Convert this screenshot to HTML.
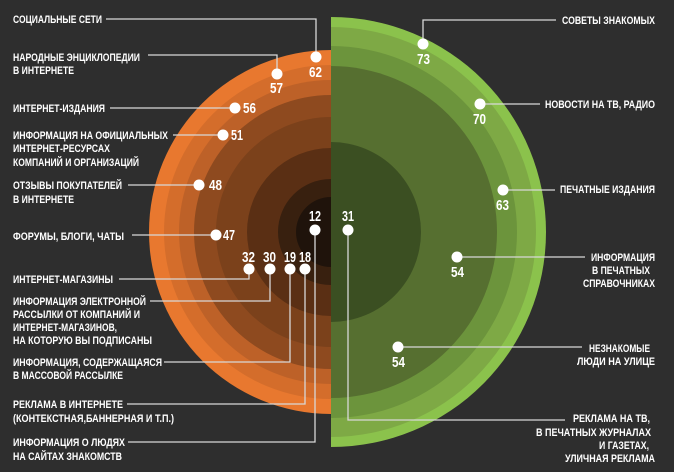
<!DOCTYPE html>
<html><head><meta charset="utf-8"><style>
html,body{margin:0;padding:0;background:#2e2e2e;}
svg{display:block;}
text{font-family:"Liberation Sans",sans-serif;font-weight:bold;fill:#fff;}
.l{font-size:11px;}
.n{font-size:14.5px;}
</style></head><body>
<svg width="674" height="472" viewBox="0 0 674 472" xmlns="http://www.w3.org/2000/svg">
<rect width="674" height="472" fill="#2e2e2e"/>
<defs>
<clipPath id="L"><rect x="0" y="0" width="331" height="472"/></clipPath>
<clipPath id="R"><rect x="331" y="0" width="343" height="472"/></clipPath>
</defs>
<g clip-path="url(#L)">
<circle cx="331" cy="232" r="182" fill="#e8782f"/>
<circle cx="331" cy="232" r="167" fill="#d46d2b"/>
<circle cx="331" cy="232" r="152" fill="#bd6128"/>
<circle cx="331" cy="232" r="137" fill="#8e4a1f"/>
<circle cx="331" cy="232" r="115" fill="#7b411b"/>
<circle cx="331" cy="232" r="84" fill="#5a2f14"/>
<circle cx="331" cy="232" r="53" fill="#38200f"/>
<circle cx="331" cy="232" r="35" fill="#1f130b"/>
</g>
<g clip-path="url(#R)">
<circle cx="331" cy="232" r="215" fill="#8bc24c"/>
<circle cx="331" cy="232" r="205" fill="#7ea945"/>
<circle cx="331" cy="232" r="186" fill="#6c943c"/>
<circle cx="331" cy="232" r="166" fill="#566f30"/>
<circle cx="331" cy="232" r="90" fill="#3b4f22"/>
</g>
<g fill="none" stroke="#d8d8d8" stroke-width="1.3">
<polyline points="106,19 316,19 316,57"/>
<polyline points="148,55 277,55 277,74"/>
<polyline points="110,108 235,108"/>
<polyline points="173,135 223,135"/>
<polyline points="128,185 199,185"/>
<polyline points="132,235 216,235"/>
<polyline points="119,279 249,279 249,269"/>
<polyline points="150,301 270,301 270,269"/>
<polyline points="164,362 290,362 290,269"/>
<polyline points="127,404 305,404 305,269"/>
<polyline points="128,442 315,442 315,230"/>
<polyline points="348,230 348,420 565,420"/>
<polyline points="423,44 423,20 556,20"/>
<polyline points="480,104 540,104"/>
<polyline points="503,190 555,190"/>
<polyline points="457,257 585,257"/>
<polyline points="398,347 582,347"/>
</g>
<g fill="#fff">
<circle cx="316" cy="57" r="5.5"/><circle cx="277" cy="74" r="5.5"/><circle cx="235" cy="108" r="5.5"/>
<circle cx="223" cy="135" r="5.5"/><circle cx="199" cy="185" r="5.5"/><circle cx="216" cy="235" r="5.5"/>
<circle cx="249" cy="269" r="5.5"/><circle cx="270" cy="269" r="5.5"/><circle cx="290" cy="269" r="5.5"/>
<circle cx="305" cy="269" r="5.5"/><circle cx="315" cy="230" r="5.5"/><circle cx="348" cy="230" r="5.5"/>
<circle cx="423" cy="44" r="5.5"/><circle cx="480" cy="104" r="5.5"/><circle cx="503" cy="190" r="5.5"/>
<circle cx="457" cy="257" r="5.5"/><circle cx="398" cy="347" r="5.5"/>
</g>
<g class="n">
<text x="309" y="77" textLength="13" lengthAdjust="spacingAndGlyphs">62</text>
<text x="270" y="93" textLength="13" lengthAdjust="spacingAndGlyphs">57</text>
<text x="243" y="113" textLength="13" lengthAdjust="spacingAndGlyphs">56</text>
<text x="231" y="140" textLength="12" lengthAdjust="spacingAndGlyphs">51</text>
<text x="209" y="190" textLength="13" lengthAdjust="spacingAndGlyphs">48</text>
<text x="223" y="240" textLength="12" lengthAdjust="spacingAndGlyphs">47</text>
<text x="242" y="262" textLength="13" lengthAdjust="spacingAndGlyphs">32</text>
<text x="263" y="262" textLength="13" lengthAdjust="spacingAndGlyphs">30</text>
<text x="284" y="262" textLength="12" lengthAdjust="spacingAndGlyphs">19</text>
<text x="299" y="262" textLength="12" lengthAdjust="spacingAndGlyphs">18</text>
<text x="309" y="221" textLength="12" lengthAdjust="spacingAndGlyphs">12</text>
<text x="342" y="221" textLength="12" lengthAdjust="spacingAndGlyphs">31</text>
<text x="417" y="64" textLength="13" lengthAdjust="spacingAndGlyphs">73</text>
<text x="473" y="124" textLength="13" lengthAdjust="spacingAndGlyphs">70</text>
<text x="496" y="210" textLength="13" lengthAdjust="spacingAndGlyphs">63</text>
<text x="451" y="277" textLength="13" lengthAdjust="spacingAndGlyphs">54</text>
<text x="392" y="367" textLength="13" lengthAdjust="spacingAndGlyphs">54</text>
</g>
<g class="l">
<text x="13" y="23" textLength="89" lengthAdjust="spacingAndGlyphs">СОЦИАЛЬНЫЕ СЕТИ</text>
<text x="13" y="61" textLength="127" lengthAdjust="spacingAndGlyphs">НАРОДНЫЕ ЭНЦИКЛОПЕДИИ</text>
<text x="13" y="74" textLength="61" lengthAdjust="spacingAndGlyphs">В ИНТЕРНЕТЕ</text>
<text x="13" y="112" textLength="92" lengthAdjust="spacingAndGlyphs">ИНТЕРНЕТ-ИЗДАНИЯ</text>
<text x="13" y="139" textLength="155" lengthAdjust="spacingAndGlyphs">ИНФОРМАЦИЯ НА ОФИЦИАЛЬНЫХ</text>
<text x="13" y="152" textLength="97" lengthAdjust="spacingAndGlyphs">ИНТЕРНЕТ-РЕСУРСАХ</text>
<text x="13" y="166" textLength="126" lengthAdjust="spacingAndGlyphs">КОМПАНИЙ И ОРГАНИЗАЦИЙ</text>
<text x="13" y="189" textLength="109" lengthAdjust="spacingAndGlyphs">ОТЗЫВЫ ПОКУПАТЕЛЕЙ</text>
<text x="13" y="203" textLength="61" lengthAdjust="spacingAndGlyphs">В ИНТЕРНЕТЕ</text>
<text x="13" y="240" textLength="111" lengthAdjust="spacingAndGlyphs">ФОРУМЫ, БЛОГИ, ЧАТЫ</text>
<text x="13" y="283" textLength="100" lengthAdjust="spacingAndGlyphs">ИНТЕРНЕТ-МАГАЗИНЫ</text>
<text x="13" y="305" textLength="133" lengthAdjust="spacingAndGlyphs">ИНФОРМАЦИЯ ЭЛЕКТРОННОЙ</text>
<text x="13" y="318" textLength="127" lengthAdjust="spacingAndGlyphs">РАССЫЛКИ ОТ КОМПАНИЙ И</text>
<text x="13" y="331" textLength="104" lengthAdjust="spacingAndGlyphs">ИНТЕРНЕТ-МАГАЗИНОВ,</text>
<text x="13" y="344" textLength="139" lengthAdjust="spacingAndGlyphs">НА КОТОРУЮ ВЫ ПОДПИСАНЫ</text>
<text x="13" y="366" textLength="149" lengthAdjust="spacingAndGlyphs">ИНФОРМАЦИЯ, СОДЕРЖАЩАЯСЯ</text>
<text x="13" y="379" textLength="110" lengthAdjust="spacingAndGlyphs">В МАССОВОЙ РАССЫЛКЕ</text>
<text x="13" y="408" textLength="110" lengthAdjust="spacingAndGlyphs">РЕКЛАМА В ИНТЕРНЕТЕ</text>
<text x="13" y="422" textLength="161" lengthAdjust="spacingAndGlyphs">(КОНТЕКСТНАЯ,БАННЕРНАЯ И Т.П.)</text>
<text x="13" y="446" textLength="112" lengthAdjust="spacingAndGlyphs">ИНФОРМАЦИЯ О ЛЮДЯХ</text>
<text x="13" y="460" textLength="109" lengthAdjust="spacingAndGlyphs">НА САЙТАХ ЗНАКОМСТВ</text>
</g>
<g class="l">
<text x="562" y="24" textLength="93" lengthAdjust="spacingAndGlyphs">СОВЕТЫ ЗНАКОМЫХ</text>
<text x="545" y="108" textLength="110" lengthAdjust="spacingAndGlyphs">НОВОСТИ НА ТВ, РАДИО</text>
<text x="560" y="193" textLength="95" lengthAdjust="spacingAndGlyphs">ПЕЧАТНЫЕ ИЗДАНИЯ</text>
<text x="591" y="261" textLength="64" lengthAdjust="spacingAndGlyphs">ИНФОРМАЦИЯ</text>
<text x="592" y="274" textLength="58" lengthAdjust="spacingAndGlyphs">В ПЕЧАТНЫХ</text>
<text x="583" y="287" textLength="72" lengthAdjust="spacingAndGlyphs">СПРАВОЧНИКАХ</text>
<text x="589" y="352" textLength="61" lengthAdjust="spacingAndGlyphs">НЕЗНАКОМЫЕ</text>
<text x="577" y="365" textLength="78" lengthAdjust="spacingAndGlyphs">ЛЮДИ НА УЛИЦЕ</text>
<text x="573" y="422" textLength="77" lengthAdjust="spacingAndGlyphs">РЕКЛАМА НА ТВ,</text>
<text x="536" y="436" textLength="115" lengthAdjust="spacingAndGlyphs">В ПЕЧАТНЫХ ЖУРНАЛАХ</text>
<text x="599" y="449" textLength="50" lengthAdjust="spacingAndGlyphs">И ГАЗЕТАХ,</text>
<text x="565" y="462" textLength="90" lengthAdjust="spacingAndGlyphs">УЛИЧНАЯ РЕКЛАМА</text>
</g>
</svg>
</body></html>
